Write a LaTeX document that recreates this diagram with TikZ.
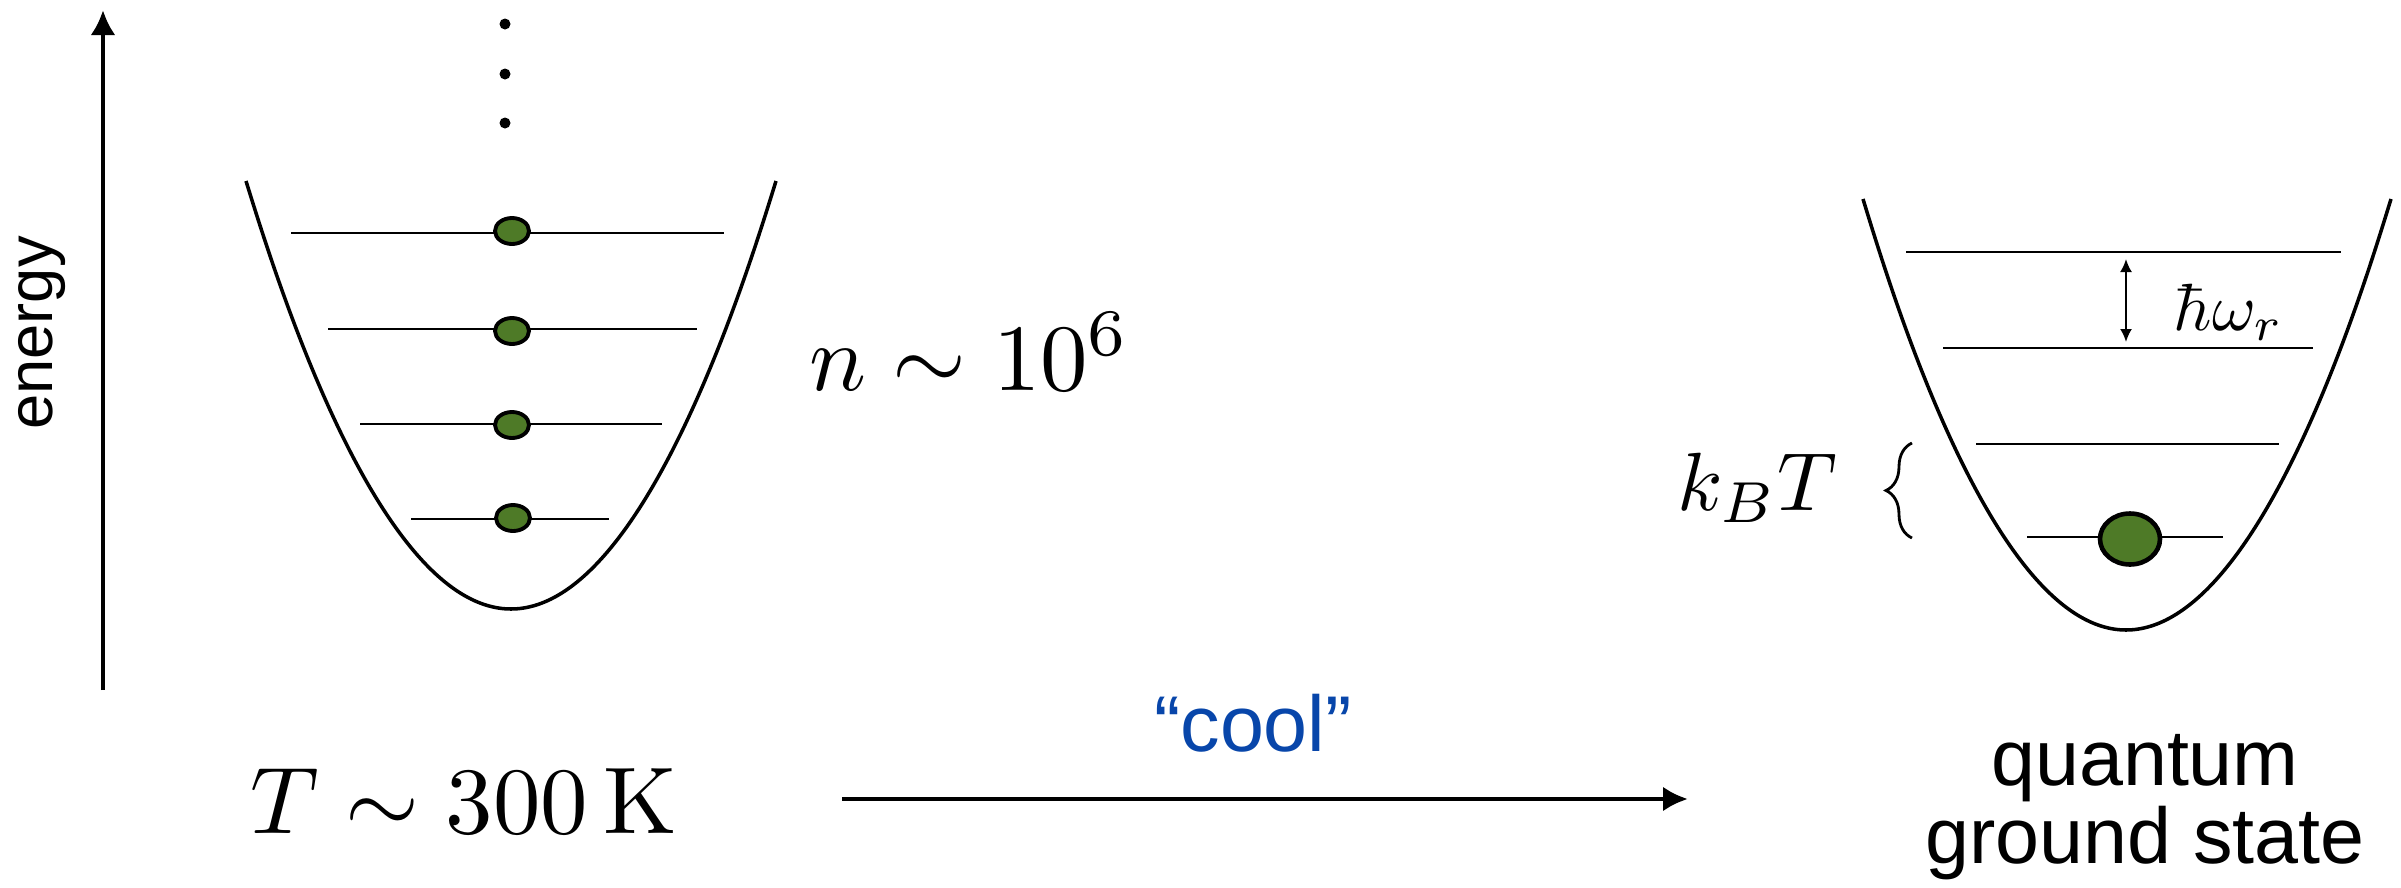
\documentclass[tikz,border=0pt]{standalone}
\usepackage{amsmath}
\usepackage{fontspec}
\newfontfamily\labelfont{Liberation Sans}
\usetikzlibrary{arrows.meta,calc,positioning,shapes.geometric,decorations.pathreplacing}
\definecolor{ballgreen}{RGB}{78,122,39}
\definecolor{coolblue}{RGB}{8,70,170}

\begin{document}
\begin{tikzpicture}[
  x=0.1mm, y=-0.1mm,
  level/.style={line width=0.7pt},
  well/.style={line width=1pt},
  ball/.style={ellipse, draw, fill=ballgreen, line width=1.1pt, inner sep=0pt, minimum width=3.4mm, minimum height=2.6mm},
  bigball/.style={ball, line width=1.3pt, minimum width=6mm, minimum height=5.1mm},
  dotmark/.style={circle, fill, inner sep=0pt, minimum size=1.1mm},
  arr/.style={-{Latex[length=2.5mm, width=2.5mm]}, line width=1.4pt},
  sans/.style={font=\labelfont}
]
\useasboundingbox (0,0) rectangle (2401,888);

% energy axis
\coordinate (ebot) at (103,690);
\coordinate (etop) at (103,10);
\draw[arr] (ebot) -- (etop);
\node[sans, scale=1.8, rotate=90, anchor=base] (energy) at (52,333) {energy};

% room temperature well
\draw[well] (246,181) parabola bend (511,609) (776,181);
\draw[level] (291,233) -- (724,233);
\draw[level] (328,329) -- (697,329);
\draw[level] (360,424) -- (662,424);
\draw[level] (411,519) -- (609,519);
\node[ball] (hot1) at (512,231) {};
\node[ball] (hot2) at (512,331) {};
\node[ball] (hot3) at (512,425) {};
\node[ball] (hot4) at (513,518) {};
\node[dotmark] (dot1) at (505,24) {};
\node[dotmark] (dot2) at (505,74) {};
\node[dotmark] (dot3) at (505,123) {};
\node[scale=2.7, anchor=base] (occupation) at (970,390) {$n\sim10^6$};
\node[scale=2.7, anchor=base] (room) at (464,833) {$T\sim300\,\mathrm{K}$};

% cooling step
\coordinate (cstart) at (842,799);
\coordinate (cend) at (1688,799);
\draw[arr] (cstart) -- (cend);
\node[sans, text=coolblue, scale=2.25, anchor=base] (cool) at (1253,751) {“cool”};

% ground state well
\draw[well] (1863,199) parabola bend (2126,630) (2391,199);
\draw[level] (1906,252) -- (2341,252);
\draw[level] (1943,348) -- (2313,348);
\draw[level] (1976,444) -- (2279,444);
\draw[level] (2027,537) -- (2223,537);
\node[bigball] (cold) at (2130,539) {};
\coordinate (gaptop) at (2126,259);
\coordinate (gapbot) at (2126,342);
\draw[{Latex[length=1.3mm, width=1.2mm]}-{Latex[length=1.3mm, width=1.2mm]}, line width=0.6pt] (gaptop) -- (gapbot);
\node[scale=1.9, anchor=base west] (spacing) at (2150,330) {$\hbar\omega_r$};
\node[scale=2.35, anchor=base] (thermal) at (1757,510) {$k_BT$};
\coordinate (brbot) at (1912,538);
\coordinate (brtop) at (1912,443);
\draw[decorate, decoration={brace, amplitude=2.6mm}, line width=0.8pt] (brbot) -- (brtop);
\node[font={\labelfont\fontsize{10pt}{9.8pt}\selectfont}, scale=2.25, align=center, anchor=base] (ground) at (2145,863) {quantum\\ground state};
\end{tikzpicture}
\end{document}
